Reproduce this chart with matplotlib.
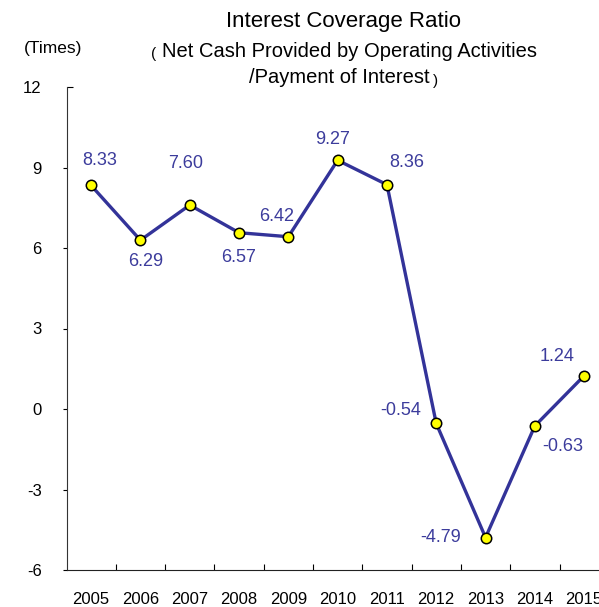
import numpy as np
import matplotlib.pyplot as plt
from matplotlib.ticker import FixedLocator, NullFormatter

plt.rcParams['font.family'] = ['Liberation Sans', 'DejaVu Sans']
plt.rcParams['axes.unicode_minus'] = False

# data
years = ['2005', '2006', '2007', '2008', '2009', '2010',
         '2011', '2012', '2013', '2014', '2015']
ratio = [8.33, 6.29, 7.60, 6.57, 6.42, 9.27, 8.36, -0.54, -4.79, -0.63, 1.24]
labels = ['8.33', '6.29', '7.60', '6.57', '6.42', '9.27',
          '8.36', '-0.54', '-4.79', '-0.63', '1.24']
yticks = [-6, -3, 0, 3, 6, 9]

# label offsets in pixels (dx, dy)
offsets = [(9, 25), (5, -21), (-4, 42), (0, -25), (-12, 20), (-5, 21),
           (20, 22), (-36, 13), (-45, 0), (28, -21), (-27, 19)]

W, H = 599, 607
line_col = '#333399'
lab_col = '#3C3C9C'

fig = plt.figure(figsize=(W / 100, H / 100), dpi=100)
# axes runs past the right edge, as in the original
ax = fig.add_axes([66.5 / W, 37 / H, 542.3 / W, 483 / H])

x = np.arange(len(years))
ax.plot(x, ratio, color=line_col, lw=2.4, marker='o', ms=7.5,
        mfc='#FFFF00', mec='black', mew=1.1, zorder=3)

for i in range(len(years)):
    ax.annotate(labels[i], (x[i], ratio[i]), xytext=offsets[i],
                textcoords='offset pixels', ha='center', va='center',
                fontsize=13, color=lab_col)

ax.set_xlim(-0.5, len(years) - 0.5)
ax.set_ylim(-6, 12)

for s in ['top', 'right']:
    ax.spines[s].set_visible(False)
ax.spines['left'].set_color('#333333')
ax.spines['bottom'].set_color('#222222')

# x: boundary ticks inward, year labels at centres
ax.xaxis.set_major_locator(FixedLocator(np.arange(0.5, len(years), 1.0)))
ax.xaxis.set_major_formatter(NullFormatter())
ax.xaxis.set_minor_locator(FixedLocator(x))
ax.set_xticklabels(years, minor=True)
ax.tick_params(axis='x', which='major', direction='in', length=4, width=0.8)
ax.tick_params(axis='x', which='minor', length=0, pad=16, labelsize=12)

# y: outward ticks, plus an inward tick at the top value 12
ax.set_yticks(yticks)
ax.set_yticklabels([str(v) for v in yticks])
ax.tick_params(axis='y', which='major', direction='out', length=3, width=0.8,
               pad=15, labelsize=12)
ax.yaxis.set_minor_locator(FixedLocator([12]))
ax.set_yticklabels(['12'], minor=True)
ax.tick_params(axis='y', which='minor', direction='in', length=4, width=0.8,
               pad=18, labelsize=12)

def fx(px):
    return px / W

def fy(py):
    return 1 - py / H

fig.text(fx(53), fy(48), '(Times)', ha='center', va='center', fontsize=12.5)
fig.text(fx(344), fy(26.7), 'Interest Coverage Ratio', ha='center',
         va='baseline', fontsize=16)
fig.text(fx(349), fy(56.7), 'Net Cash Provided by Operating Activities',
         ha='center', va='baseline', fontsize=14.5)
fig.text(fx(156), fy(58), '(', ha='right', va='baseline', fontsize=11)
fig.text(fx(339), fy(83), '/Payment of Interest', ha='center',
         va='baseline', fontsize=14.5)
fig.text(fx(433), fy(85), ')', ha='left', va='baseline', fontsize=11)

fig.savefig('out.png', dpi=100)
